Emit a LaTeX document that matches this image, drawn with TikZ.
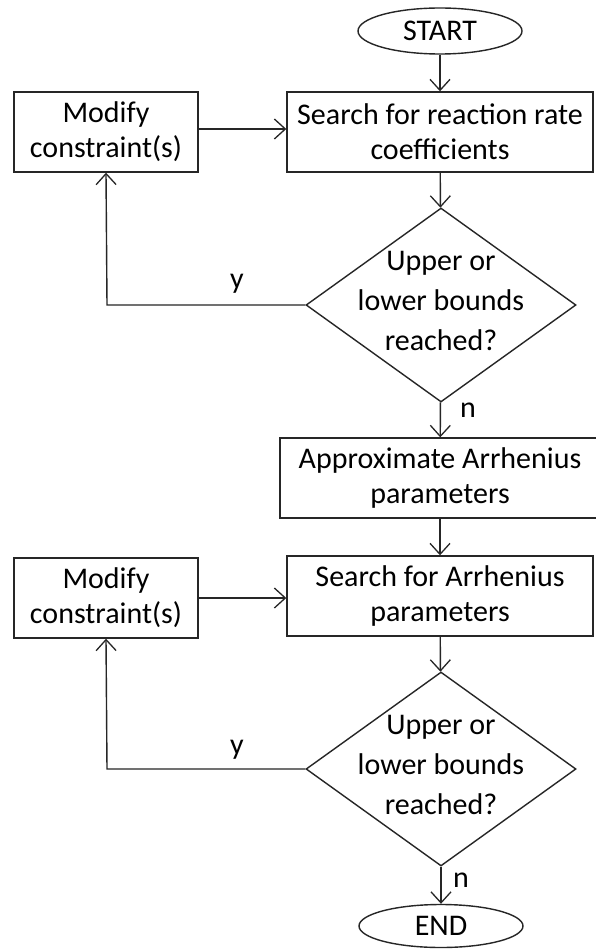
\documentclass[tikz,border=0pt]{standalone}
\usepackage{fontspec}
\setmainfont{Carlito}
\usetikzlibrary{shapes.geometric,arrows.meta}

\tikzset{
  flowline/.style={draw=black!85, line width=1.4pt},
  arr/.style={flowline, -{Straight Barb[length=11pt,width=20pt,line width=1.3pt]}},
  terminal/.style={ellipse, flowline, inner sep=0pt, minimum width=164pt, minimum height=46pt, font=\fontsize{30}{34}\selectfont},
  process/.style={rectangle, flowline, inner sep=0pt, minimum height=80pt, align=center, font=\fontsize{30}{35}\selectfont},
  decision/.style={diamond, flowline, inner sep=0pt, minimum width=270pt, minimum height=194pt},
  question/.style={inner sep=0pt, align=center, font=\fontsize{30}{40}\selectfont},
  lbl/.style={inner sep=0pt, font=\fontsize{30}{34}\selectfont}
}

\begin{document}
\begin{tikzpicture}[x=1pt,y=1pt]
  \useasboundingbox (0,0) rectangle (595,-952);
  \fill[white] (0,0) rectangle (595,-952);

  % first search loop
  \node[terminal] (start) at (440,-31) {START};
  \node[process, minimum width=306pt] (srch1) at (440,-132) {Search for reaction rate\\coefficients};
  \node[process, minimum width=184pt] (mod1) at (106,-132) {Modify\\constraint(s)};
  \node[decision] (dec1) at (441,-305) {};
  \node[question] (q1) at ([yshift=4pt]dec1.center) {Upper or\\lower bounds\\reached?};
  \coordinate (c1) at (107,-305);

  % Arrhenius stage
  \node[process, minimum width=320pt] (approx) at (440,-478) {Approximate Arrhenius\\parameters};
  \node[process, minimum width=306pt] (srch2) at (440,-596) {Search for Arrhenius\\parameters};
  \node[process, minimum width=184pt] (mod2) at (106,-598) {Modify\\constraint(s)};
  \node[decision] (dec2) at (441,-769) {};
  \node[question] (q2) at ([yshift=4pt]dec2.center) {Upper or\\lower bounds\\reached?};
  \coordinate (c2) at (107,-769);
  \node[terminal, minimum height=43pt] (end) at (441,-926) {END};

  % connectors
  \draw[arr] (start) -- (srch1);
  \draw[arr] (srch1) -- (dec1);
  \draw[arr] ([yshift=3pt]mod1.east) -- ([yshift=3pt]srch1.west);
  \draw[arr] (dec1.west) -- (c1) -- (mod1.south);
  \draw[arr] (dec1) -- (approx);
  \draw[arr] (approx) -- (srch2);
  \draw[arr] (srch2) -- (dec2);
  \draw[arr] (mod2.east) -- (mod2.east -| srch2.west);
  \draw[arr] (dec2.west) -- (c2) -- (mod2.south);
  \draw[arr] (dec2) -- (end);

  % branch labels
  \node[lbl] (y1) at (237,-284) {y};
  \node[lbl] (n1) at (468,-410) {n};
  \node[lbl] (y2) at (237,-750) {y};
  \node[lbl] (n2) at (461,-880) {n};
\end{tikzpicture}
\end{document}
